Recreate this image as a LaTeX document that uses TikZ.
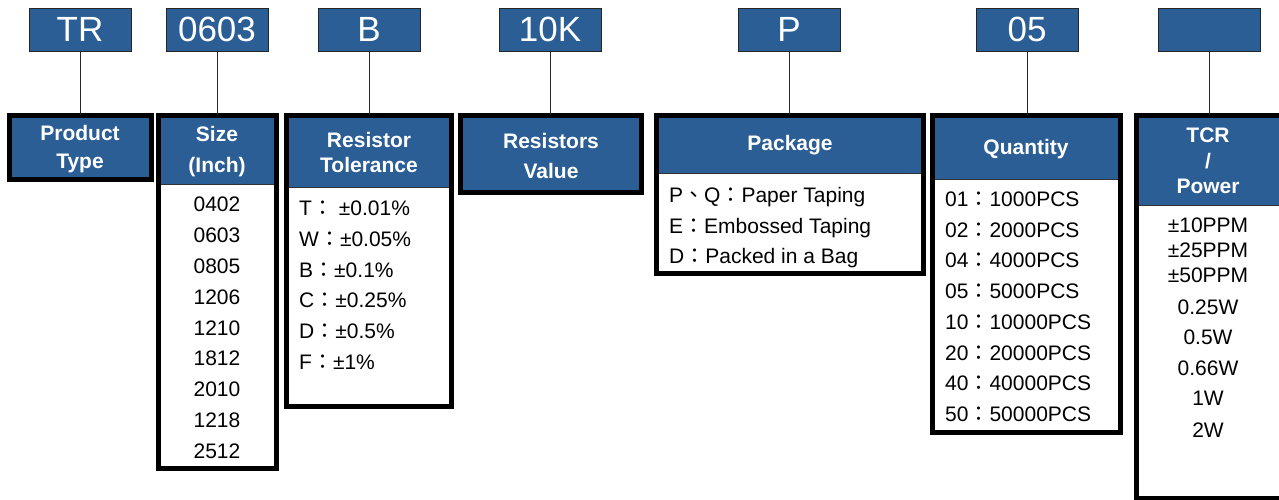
\documentclass[tikz,border=0pt]{standalone}
\usepackage{fontspec}
\setmainfont{Liberation Sans}
\newfontfamily\cjk{Noto Sans CJK TC}
\definecolor{hdrblue}{RGB}{44,94,150}
\newcommand\fwc{{\cjk ：}}
\newcommand\fwd{{\cjk 、}}
\begin{document}
\begin{tikzpicture}[x=1pt,y=-1pt,
 code/.style={draw=black!85, line width=0.8pt, fill=hdrblue, text=white, minimum width=102pt, minimum height=43pt, inner sep=0pt, outer sep=0pt, font=\fontsize{35}{40}\selectfont},
 frame/.style={draw=black, line width=5pt, inner sep=0pt, outer sep=0pt},
 hdr/.style={fill=hdrblue, inner sep=0pt, outer sep=0pt, anchor=north west},
 sep/.style={draw=black!80, line width=1pt},
 htxt/.style={text=white, align=center, inner sep=0pt},
 item/.style={anchor=west, text height=15pt, text depth=0pt, font=\fontsize{21}{25}\selectfont, inner sep=0pt},
 citem/.style={text height=15pt, text depth=0pt, font=\fontsize{21}{25}\selectfont, inner sep=0pt},
 link/.style={draw=black!85, line width=0.8pt}]
\useasboundingbox (0,0) rectangle (1279,500);

% top code boxes
\node[code] (tr)   at (80,29.5)   {TR};
\node[code] (sz)   at (217,29.5)  {0603};
\node[code] (tol)  at (369,29.5)  {B};
\node[code] (val)  at (550,29.5)  {10K};
\node[code] (pkg)  at (789,29.5)  {P};
\node[code] (qty)  at (1027,29.5) {05};
\node[code] (tcr)  at (1209,29.5) {};

% header fills
\node[hdr, minimum width=147pt, minimum height=69pt] (pth) at (7,113) {};
\node[hdr, minimum width=123pt, minimum height=71pt] (szh) at (156,113) {};
\node[hdr, minimum width=170pt, minimum height=74pt] (tolh) at (284,113) {};
\node[hdr, minimum width=186pt, minimum height=82pt] (valh) at (458,113) {};
\node[hdr, minimum width=272pt, minimum height=60pt] (pkgh) at (654,113) {};
\node[hdr, minimum width=193pt, minimum height=66pt] (qtyh) at (930,113) {};
\node[hdr, minimum width=150pt, minimum height=92pt] (tcrh) at (1134,113) {};

% separators
\draw[sep] (szh.south west) -- (szh.south east);
\draw[sep] (tolh.south west) -- (tolh.south east);
\draw[sep] (pkgh.south west) -- (pkgh.south east);
\draw[sep] (qtyh.south west) -- (qtyh.south east);
\draw[sep] (tcrh.south west) -- (tcrh.south east);

% frames
\node[frame, minimum width=142pt, minimum height=64pt]  (ptf)  at (80.5,147.5) {};
\node[frame, minimum width=118pt, minimum height=353pt] (szf)  at (217.5,292) {};
\node[frame, minimum width=165pt, minimum height=291pt] (tolf) at (369,261) {};
\node[frame, minimum width=181pt, minimum height=77pt]  (valf) at (551,154) {};
\node[frame, minimum width=267pt, minimum height=158pt] (pkgf) at (790,194.5) {};
\node[frame, minimum width=188pt, minimum height=317pt] (qtyf) at (1026.5,274) {};
\node[frame, minimum width=145pt, minimum height=383pt] (tcrf) at (1209,307) {};

% connectors
\draw[link] (tr.south)  -- (tr.south |- ptf.north);
\draw[link] (sz.south)  -- (sz.south |- szf.north);
\draw[link] (tol.south) -- (tol.south |- tolf.north);
\draw[link] (val.south) -- (val.south |- valf.north);
\draw[link] (pkg.south) -- (pkg.south |- pkgf.north);
\draw[link] (qty.south) -- (qty.south |- qtyf.north);
\draw[link] (tcr.south) -- (tcr.south |- tcrf.north);

% header texts
\node[htxt, font=\bfseries\fontsize{21}{28}\selectfont] (ptt) at (80,149) {Product\\Type};
\node[htxt, font=\bfseries\fontsize{21}{31}\selectfont] (szt) at (217,151.5) {Size\\(Inch)};
\node[htxt, font=\bfseries\fontsize{21}{25}\selectfont] (tolt) at (369,152.5) {Resistor\\Tolerance};
\node[htxt, font=\bfseries\fontsize{21}{30}\selectfont] (valt) at (551,156) {Resistors\\Value};
\node[htxt, font=\bfseries\fontsize{21}{25}\selectfont] (pkgt) at (790,145) {Package};
\node[htxt, font=\bfseries\fontsize{21}{25}\selectfont] (qtyt) at (1026,149) {Quantity};
\node[htxt, font=\bfseries\fontsize{21}{25.5}\selectfont] (tcrt) at (1208,161) {TCR\\/\\Power};

% size items
\foreach \t [count=\i from 0] in {0402,0603,0805,1206,1210,1812,2010,1218,2512}
  \node[citem] (szi\i) at (217,204+\i*30.875) {\t};

% tolerance items
\node[item] (tol1) at (299,208) {T\fwc{} ±0.01\%};
\node[item] (tol2) at (299,239) {W\fwc±0.05\%};
\node[item] (tol3) at (299,270) {B\fwc±0.1\%};
\node[item] (tol4) at (299,300) {C\fwc±0.25\%};
\node[item] (tol5) at (299,331) {D\fwc±0.5\%};
\node[item] (tol6) at (299,362) {F\fwc±1\%};

% package items
\node[item] (pkg1) at (669,195) {P\fwd Q\fwc Paper Taping};
\node[item] (pkg2) at (669,226) {E\fwc Embossed Taping};
\node[item] (pkg3) at (669,256) {D\fwc Packed in a Bag};

% quantity items
\foreach \a/\b [count=\i from 0] in {01/1000,02/2000,04/4000,05/5000,10/10000,20/20000,40/40000,50/50000}
  \node[item] (qtyi\i) at (945,199+\i*30.7) {\a\fwc\b PCS};

% TCR / power items
\node[citem] (tcr1) at (1208,225) {±10PPM};
\node[citem] (tcr2) at (1208,250) {±25PPM};
\node[citem] (tcr3) at (1208,275) {±50PPM};
\node[citem] (tcr4) at (1208,307) {0.25W};
\node[citem] (tcr5) at (1208,337) {0.5W};
\node[citem] (tcr6) at (1208,368) {0.66W};
\node[citem] (tcr7) at (1208,398) {1W};
\node[citem] (tcr8) at (1208,430) {2W};
\end{tikzpicture}
\end{document}
